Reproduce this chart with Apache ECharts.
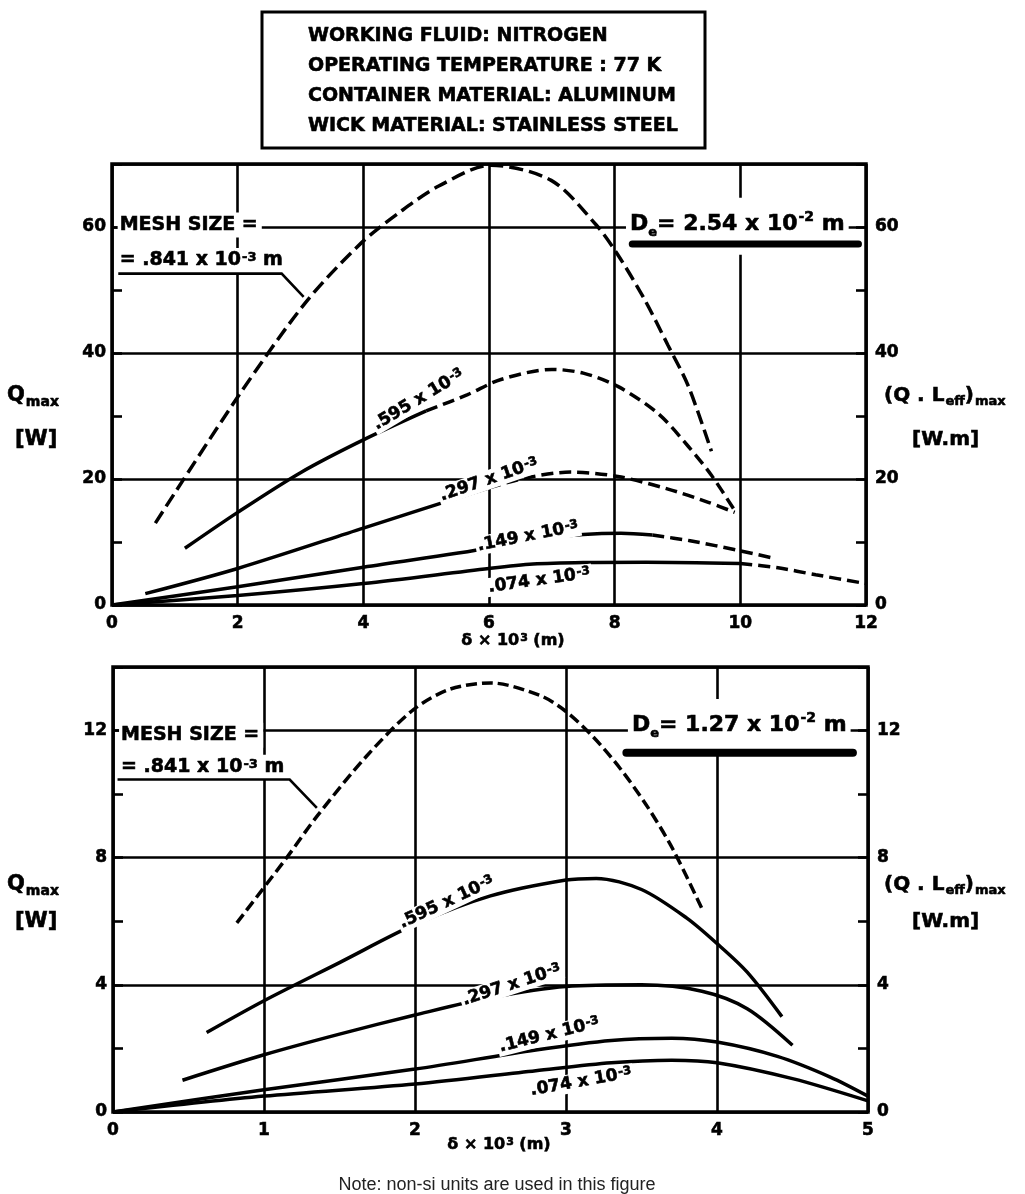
<!DOCTYPE html>
<html>
<head>
<meta charset="utf-8">
<script src="https://cdn.jsdelivr.net/npm/echarts@6/dist/echarts.min.js"></script>
<style>
  html, body { margin: 0; padding: 0; background: #fff; }
  #c { width: 1025px; height: 1194px; }
</style>
</head>
<body>
<div id="c"></div>
<script>
// Heat pipe capillary limit: Qmax versus wick thickness δ for several mesh sizes.

// Tick labels
const topXTicks = [0, 2, 4, 6, 8, 10, 12];
const topYTicks = [0, 20, 40, 60];
const botXTicks = [0, 1, 2, 3, 4, 5];
const botYTicks = [0, 4, 8, 12];

// Header lines
const headerLines = [
  'WORKING FLUID: NITROGEN',
  'OPERATING TEMPERATURE : 77 K',
  'CONTAINER MATERIAL: ALUMINUM',
  'WICK MATERIAL: STAINLESS STEEL'
];

// Mesh size labels (×10^-3 m)
const meshNames = ['.841', '.595', '.297', '.149', '.074'];

// D_e = 2.54 × 10^-2 m : [δ ×10^3 m, Qmax W]
const top841 = [[0.69,13.0],[2.0,33.0],[3.08,48.0],[3.96,57.4],[4.6,62.5],[5.2,66.5],[6.03,69.8],[6.99,67.4],[7.7,60.4],[8.05,55.6],[8.47,48.6],[8.85,41.2],[9.17,34.8],[9.54,24.4]];
const top595 = [[1.16,9.0],[2.0,14.7],[3.0,21.0],[4.0,26.2],[5.0,30.8],[5.66,33.4],[6.19,35.8],[7.0,37.4],[7.5,36.8],[8.05,34.7],[8.69,30.4],[9.17,25.2],[9.54,20.6],[9.91,15.0]];
const top297 = [[0.53,1.8],[2.0,5.8],[4.0,12.2],[6.0,18.6],[6.6,20.2],[7.3,21.1],[8.05,20.4],[8.85,18.4],[9.49,16.3],[9.91,14.7]];
const top149 = [[0,0],[2.0,2.9],[4.0,6.0],[6.0,9.0],[6.8,10.5],[7.5,11.2],[8.1,11.4],[8.6,11.1],[9.2,10.2],[10.0,8.6],[10.5,7.5]];
const top074 = [[0,0],[2.0,1.5],[4.0,3.4],[6.0,5.8],[6.7,6.5],[7.5,6.75],[8.5,6.8],[10.0,6.6],[10.6,5.9],[11.2,4.8],[12.0,3.4]];

// D_e = 1.27 × 10^-2 m
const bot841 = [[0.82,5.95],[1.15,8.0],[1.35,9.3],[1.68,11.2],[1.99,12.66],[2.23,13.3],[2.5,13.5],[2.83,13.1],[3.0,12.6],[3.18,11.8],[3.36,10.8],[3.54,9.6],[3.71,8.25],[3.91,6.3]];
const bot595 = [[0.62,2.5],[1.0,3.5],[1.5,4.7],[2.0,5.9],[2.5,6.8],[3.0,7.3],[3.2,7.35],[3.5,7.0],[3.8,6.1],[4.0,5.3],[4.2,4.4],[4.43,3.0]];
const bot297 = [[0.46,1.0],[1.0,1.8],[1.5,2.45],[2.0,3.05],[2.5,3.6],[3.0,3.95],[3.5,4.0],[3.9,3.8],[4.2,3.25],[4.5,2.1]];
const bot149 = [[0,0],[1.0,0.7],[2.0,1.35],[2.8,1.95],[3.3,2.25],[3.7,2.32],[4.0,2.2],[4.4,1.75],[4.75,1.1],[5.0,0.5]];
const bot074 = [[0,0],[1.0,0.5],[2.0,0.88],[2.8,1.3],[3.3,1.55],[3.7,1.63],[4.0,1.55],[4.5,1.05],[5.0,0.35]];

const F = 'DejaVu Sans';
const INK = '#000';

// where each curve turns from solid to dashed (δ value)
const curvesTop = [
  { pts: top841, dashFrom: -Infinity, dash: [14, 6] },
  { pts: top595, dashFrom: 5.0,  dash: [12, 6] },
  { pts: top297, dashFrom: 6.0,  dash: [12, 6] },
  { pts: top149, dashFrom: 8.6,  dash: [12, 6] },
  { pts: top074, dashFrom: 10.0, dash: [12, 6] }
];
const curvesBot = [
  { pts: bot841, dashFrom: -Infinity, dash: [11, 5] },
  { pts: bot595, dashFrom: Infinity },
  { pts: bot297, dashFrom: Infinity },
  { pts: bot149, dashFrom: Infinity },
  { pts: bot074, dashFrom: Infinity }
];

function lineSeries(pts, dash, xi, yi) {
  return {
    type: 'line', data: pts, xAxisIndex: xi, yAxisIndex: yi,
    showSymbol: false, smooth: 0.3, silent: true, animation: false, z: 3,
    lineStyle: { color: INK, width: 3.5, type: dash || 'solid', cap: 'butt' }
  };
}
function buildCurve(c, xi, yi) {
  const p = c.pts;
  if (c.dashFrom === Infinity) return [lineSeries(p, null, xi, yi)];
  if (c.dashFrom === -Infinity) return [lineSeries(p, c.dash, xi, yi)];
  let i = p.findIndex(q => q[0] >= c.dashFrom);
  if (i < 0) i = p.length - 1;
  let j = 0;
  for (let k = 0; k < p.length; k++) if (p[k][0] <= c.dashFrom) j = k;
  const out = [];
  const solid = p.slice(0, i + 1);
  const dashed = p.slice(j);
  if (solid.length > 1) out.push(lineSeries(solid, null, xi, yi));
  if (dashed.length > 1) out.push(lineSeries(dashed, c.dash, xi, yi));
  return out;
}

const tickFont = { color: INK, fontFamily: F, fontWeight: 'bold', fontSize: 17, textBorderColor: INK, textBorderWidth: 0.6 };

function xAxisFor(grid, max, step, ticks) {
  return {
    gridIndex: grid, type: 'value', min: 0, max: max, interval: step,
    axisLine: { show: false }, axisTick: { show: false },
    axisLabel: Object.assign({ margin: 10, formatter: v => ticks.includes(v) ? String(v) : '' }, tickFont),
    splitLine: { show: true, lineStyle: { color: INK, width: 2.6 } }
  };
}
function yAxesFor(grid, max, step, ticks) {
  const fmt = v => ticks.includes(v) ? String(v) : '';
  const base = {
    gridIndex: grid, type: 'value', min: 0, max: max, interval: step / 2,
    axisLine: { show: false }, splitLine: { show: false },
    axisTick: { show: true, inside: true, length: 10, lineStyle: { color: INK, width: 2.6 } }
  };
  return [
    Object.assign({}, base, { position: 'left', axisLabel: Object.assign({ margin: 6, formatter: fmt }, tickFont) }),
    Object.assign({}, base, { position: 'right', axisLabel: Object.assign({ margin: 9, formatter: fmt }, tickFont) }),
    {
      gridIndex: grid, type: 'value', min: 0, max: max, interval: step, position: 'left',
      axisLine: { show: false }, axisTick: { show: false }, axisLabel: { show: false },
      splitLine: { show: true, lineStyle: { color: INK, width: 2.6 } }
    }
  ];
}

const gridStyle = { show: true, borderColor: INK, borderWidth: 3.5, backgroundColor: 'transparent' };

const chart = echarts.init(document.getElementById('c'));
const series = [];
curvesTop.forEach(c => series.push(...buildCurve(c, 0, 0)));
curvesBot.forEach(c => series.push(...buildCurve(c, 1, 3)));

chart.setOption({
  animation: false,
  backgroundColor: '#fff',
  grid: [
    Object.assign({ left: 112, top: 164, width: 754, height: 441 }, gridStyle),
    Object.assign({ left: 113, top: 667, width: 755, height: 445 }, gridStyle)
  ],
  xAxis: [xAxisFor(0, 12, 2, topXTicks), xAxisFor(1, 5, 1, botXTicks)],
  yAxis: [...yAxesFor(0, 70, 20, topYTicks), ...yAxesFor(1, 14, 4, botYTicks)],
  series: series
});

// ---- annotations ----
const px = (g, p) => chart.convertToPixel({ gridIndex: g }, p);
const boldTxt = (size) => ({ fontFamily: F, fontWeight: 'bold', fontSize: size, fill: INK, stroke: INK, lineWidth: 0.6 });
const supStyle = (size) => Object.assign(boldTxt(size), { verticalAlign: 'top', padding: [0, 0, 0, 1] });
const G = [];

function text(x, y, str, size, extra) {
  G.push(Object.assign({
    type: 'text', x: x, y: y, z: 60, silent: true,
    style: Object.assign({ text: str, x: 0, y: 0, align: 'left', verticalAlign: 'middle' }, boldTxt(size),
      { rich: { s: supStyle(Math.round(size * 0.68)), n: boldTxt(size) } })
  }, extra || {}));
}

// header box
G.push({ type: 'rect', z: 55, silent: true, shape: { x: 262, y: 12, width: 443, height: 136 },
  style: { fill: '#fff', stroke: INK, lineWidth: 3 } });
headerLines.forEach((s, i) => text(308, 36 + i * 30, s, 19));

// axis titles
[[0, 396, 440], [1, 885, 922]].forEach(([g, yq, yw]) => {
  G.push({ type: 'text', x: 7, y: yq, z: 60, silent: true,
    style: { text: '{q|Q}{m|max}', x: 0, y: 0, verticalAlign: 'middle',
      rich: { q: boldTxt(21), m: Object.assign(boldTxt(14), { padding: [12, 0, 0, 1] }) } } });
  text(15, yw, '[W]', 21);
  G.push({ type: 'text', x: 884, y: yq, z: 60, silent: true,
    style: { text: '{q|(Q . L}{m|eff}{q|)}{m|max}', x: 0, y: 0, verticalAlign: 'middle',
      rich: { q: boldTxt(20), m: Object.assign(boldTxt(13), { padding: [12, 0, 0, 1] }) } } });
  text(912, yw, '[W.m]', 20);
});
G.push({ type: 'text', x: 513, y: 641, z: 60, silent: true,
  style: Object.assign({ text: 'δ × 10{s|3} (m)', x: 0, y: 0, align: 'center', verticalAlign: 'middle',
    rich: { s: supStyle(11) } }, boldTxt(16)) });
G.push({ type: 'text', x: 499, y: 1145, z: 60, silent: true,
  style: Object.assign({ text: 'δ × 10{s|3} (m)', x: 0, y: 0, align: 'center', verticalAlign: 'middle',
    rich: { s: supStyle(11) } }, boldTxt(16)) });

// mesh size callouts with leader lines
function meshCallout(g, line1, line2, lead) {
  const a = px(g, line1), b = px(g, line2);
  const st = { x: 0, y: 0, align: 'left', verticalAlign: 'middle', backgroundColor: '#fff', padding: [3, 4, 3, 2],
    rich: { n: boldTxt(19), s: supStyle(13) } };
  G.push({ type: 'text', x: a[0], y: a[1], z: 60, silent: true,
    style: Object.assign({ text: '{n|MESH SIZE =}' }, st) });
  G.push({ type: 'text', x: b[0], y: b[1], z: 60, silent: true,
    style: Object.assign({ text: '{n|= ' + meshNames[0] + ' x 10}{s|-3}{n| m}' }, st) });
  G.push({ type: 'polyline', z: 61, silent: true, shape: { points: lead.map(p => px(g, p)) },
    style: { stroke: INK, lineWidth: 2.6, fill: null } });
}
meshCallout(0, [0.09, 60.3], [0.09, 54.7], [[0.1, 52.6], [2.7, 52.6], [3.05, 48.9]]);
meshCallout(1, [0.04, 11.85], [0.04, 10.85], [[0.03, 10.46], [1.17, 10.46], [1.35, 9.57]]);

// diameter labels with underline
function diameter(g, anchor, value, under, thick) {
  const a = px(g, anchor);
  G.push({ type: 'text', x: a[0], y: a[1], z: 60, silent: true,
    style: { text: '{n|D}{e|e}{n|= ' + value + ' x 10}{s|-2}{n| m}', x: 0, y: 0, align: 'left', verticalAlign: 'middle',
      backgroundColor: '#fff', padding: [12, 4, 16, 4],
      rich: { n: boldTxt(22), e: Object.assign(boldTxt(13), { padding: [16, 0, 0, 0] }), s: supStyle(14) } } });
  const u0 = px(g, under[0]), u1 = px(g, under[1]);
  G.push({ type: 'line', z: 62, silent: true, shape: { x1: u0[0], y1: u0[1], x2: u1[0], y2: u1[1] },
    style: { stroke: INK, lineWidth: thick, lineCap: 'round' } });
}
diameter(0, [8.18, 60.1], '2.54', [[8.28, 57.3], [11.88, 57.3]], 7);
diameter(1, [3.41, 12.1], '1.27', [[3.4, 11.3], [4.9, 11.3]], 8);

// mesh size tags written along the curves
const tagLayout = [
  { g: 0, at: [4.88, 32.6], rot: 31, name: meshNames[1] },
  { g: 0, at: [6.0, 19.9], rot: 19, name: meshNames[2] },
  { g: 0, at: [6.62, 10.9], rot: 11, name: meshNames[3] },
  { g: 0, at: [6.8, 3.9], rot: 8, name: meshNames[4] },
  { g: 1, at: [2.21, 6.6], rot: 25, name: meshNames[1] },
  { g: 1, at: [2.64, 4.0], rot: 18, name: meshNames[2] },
  { g: 1, at: [2.89, 2.43], rot: 14, name: meshNames[3] },
  { g: 1, at: [3.1, 0.95], rot: 10, name: meshNames[4] }
];
tagLayout.forEach(t => {
  const a = px(t.g, t.at);
  G.push({ type: 'text', x: a[0], y: a[1], rotation: t.rot * Math.PI / 180, z: 60, silent: true,
    style: { text: '{n|' + t.name + ' x 10}{s|-3}', x: 0, y: 0, align: 'center', verticalAlign: 'middle',
      backgroundColor: '#fff', padding: [1, 2, 1, 2],
      rich: { n: boldTxt(17), s: supStyle(12) } } });
});

// footnote
G.push({ type: 'text', x: 497, y: 1185, z: 60, silent: true,
  style: { text: 'Note: non-si units are used in this figure', x: 0, y: 0, align: 'center', verticalAlign: 'middle',
    fontFamily: 'Liberation Sans', fontSize: 18, fill: '#222' } });

chart.setOption({ graphic: { elements: G } });
</script>
</body>
</html>
